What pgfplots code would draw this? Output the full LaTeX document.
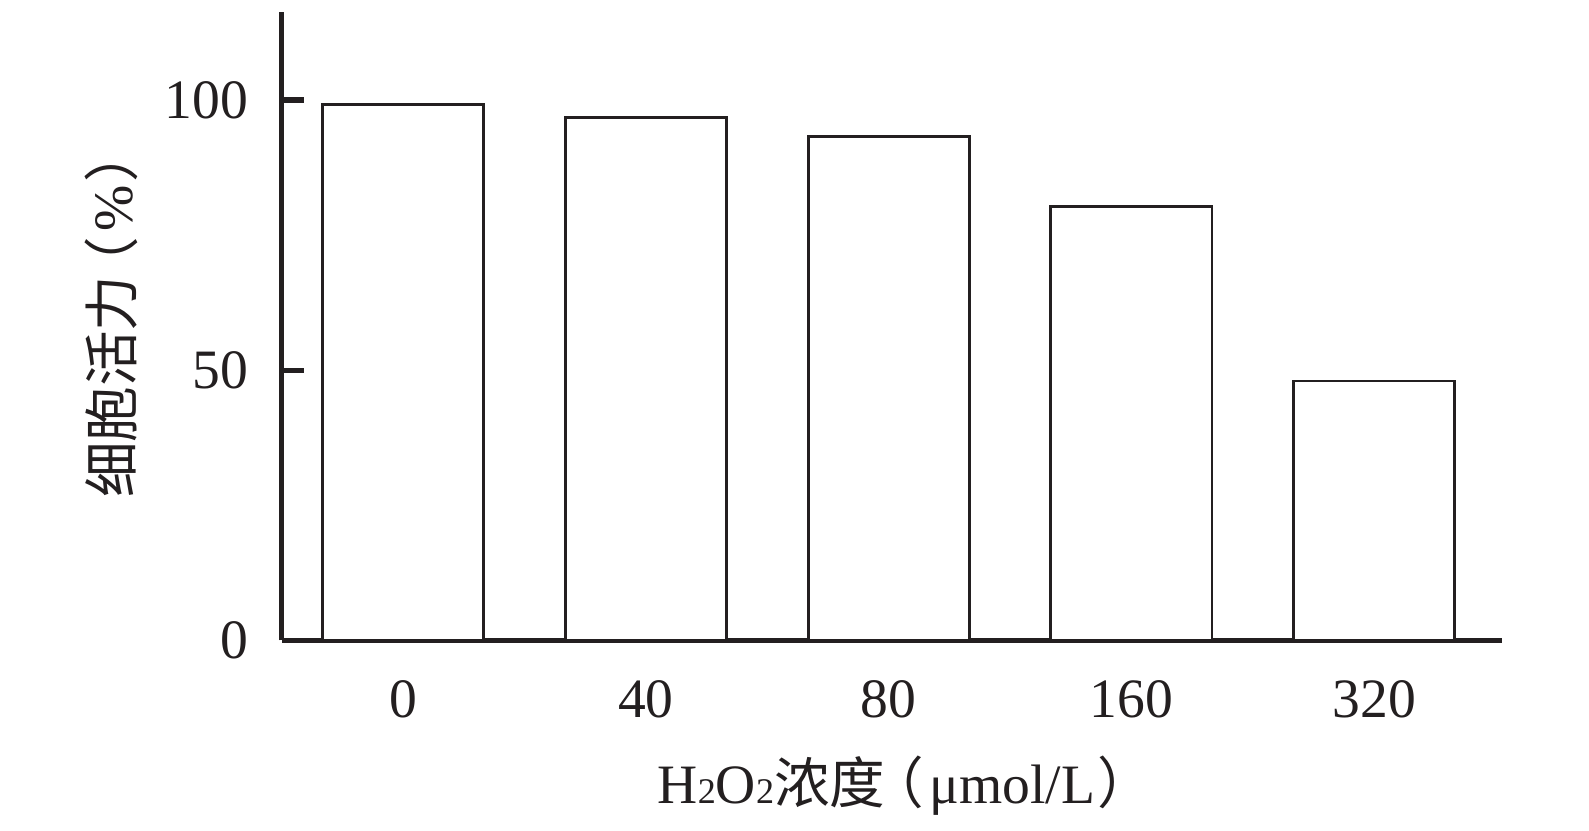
\documentclass[border=0pt]{standalone}
\usepackage{pgfplots}
\pgfplotsset{compat=1.18}
\usepackage{fontspec}
\setmainfont{Liberation Serif}
\newfontfamily\cjk{Noto Sans CJK SC}
\definecolor{ink}{HTML}{231F20}
\newcommand{\sub}[1]{{\fontsize{13}{13}\selectfont #1}}
\begin{document}
\begin{tikzpicture}
\useasboundingbox (-101.4pt,-68.6pt) rectangle (470.6pt,230.5pt);
\begin{axis}[
  at={(0,0)}, anchor=south west,
  scale only axis,
  width=439.2pt, height=226.2pt,
  xmin=-0.501, xmax=4.526,
  ymin=0, ymax=116.3,
  axis x line=bottom, axis y line=left,
  axis line style={line width=1.9pt, draw=ink, -},
  xtick={0,1,2,3,4},
  xticklabels={0,40,80,160,320},
  ytick={0,50,100},
  major x tick style={draw=none},
  y tick style={line width=1.9pt, draw=ink},
  tick align=inside,
  major tick length=8pt,
  /pgf/number format/assume math mode=true,
  tick label style={font=\fontsize{20}{24}\selectfont, text=ink},
  xticklabel style={yshift=-11pt},
  yticklabel style={xshift=-8.5pt},
  xlabel={H\sub{2}O\sub{2}{\cjk 浓度\kern-0.3em（}\kern0.1em μmol/L\kern0.05em{\cjk ）\kern-0.5em}},
  ylabel={{\cjk 细胞活力\kern-0.3em（}\kern0.1em\%\kern0.05em{\cjk ）\kern-0.5em}},
  label style={font=\fontsize{20}{24}\selectfont, text=ink},
  xlabel style={at={(axis description cs:0.5,-0.2307)}, anchor=center},
  ylabel style={at={(axis description cs:-0.1395,0.5)}, anchor=center},
  clip=false,
]
\addplot[ybar, bar width=0.664, fill=white, draw=ink, line width=1pt]
  coordinates {(0,99.2) (1,96.8) (2,93.2) (3,80.3) (4,48.0)};
\end{axis}
\end{tikzpicture}
\end{document}
